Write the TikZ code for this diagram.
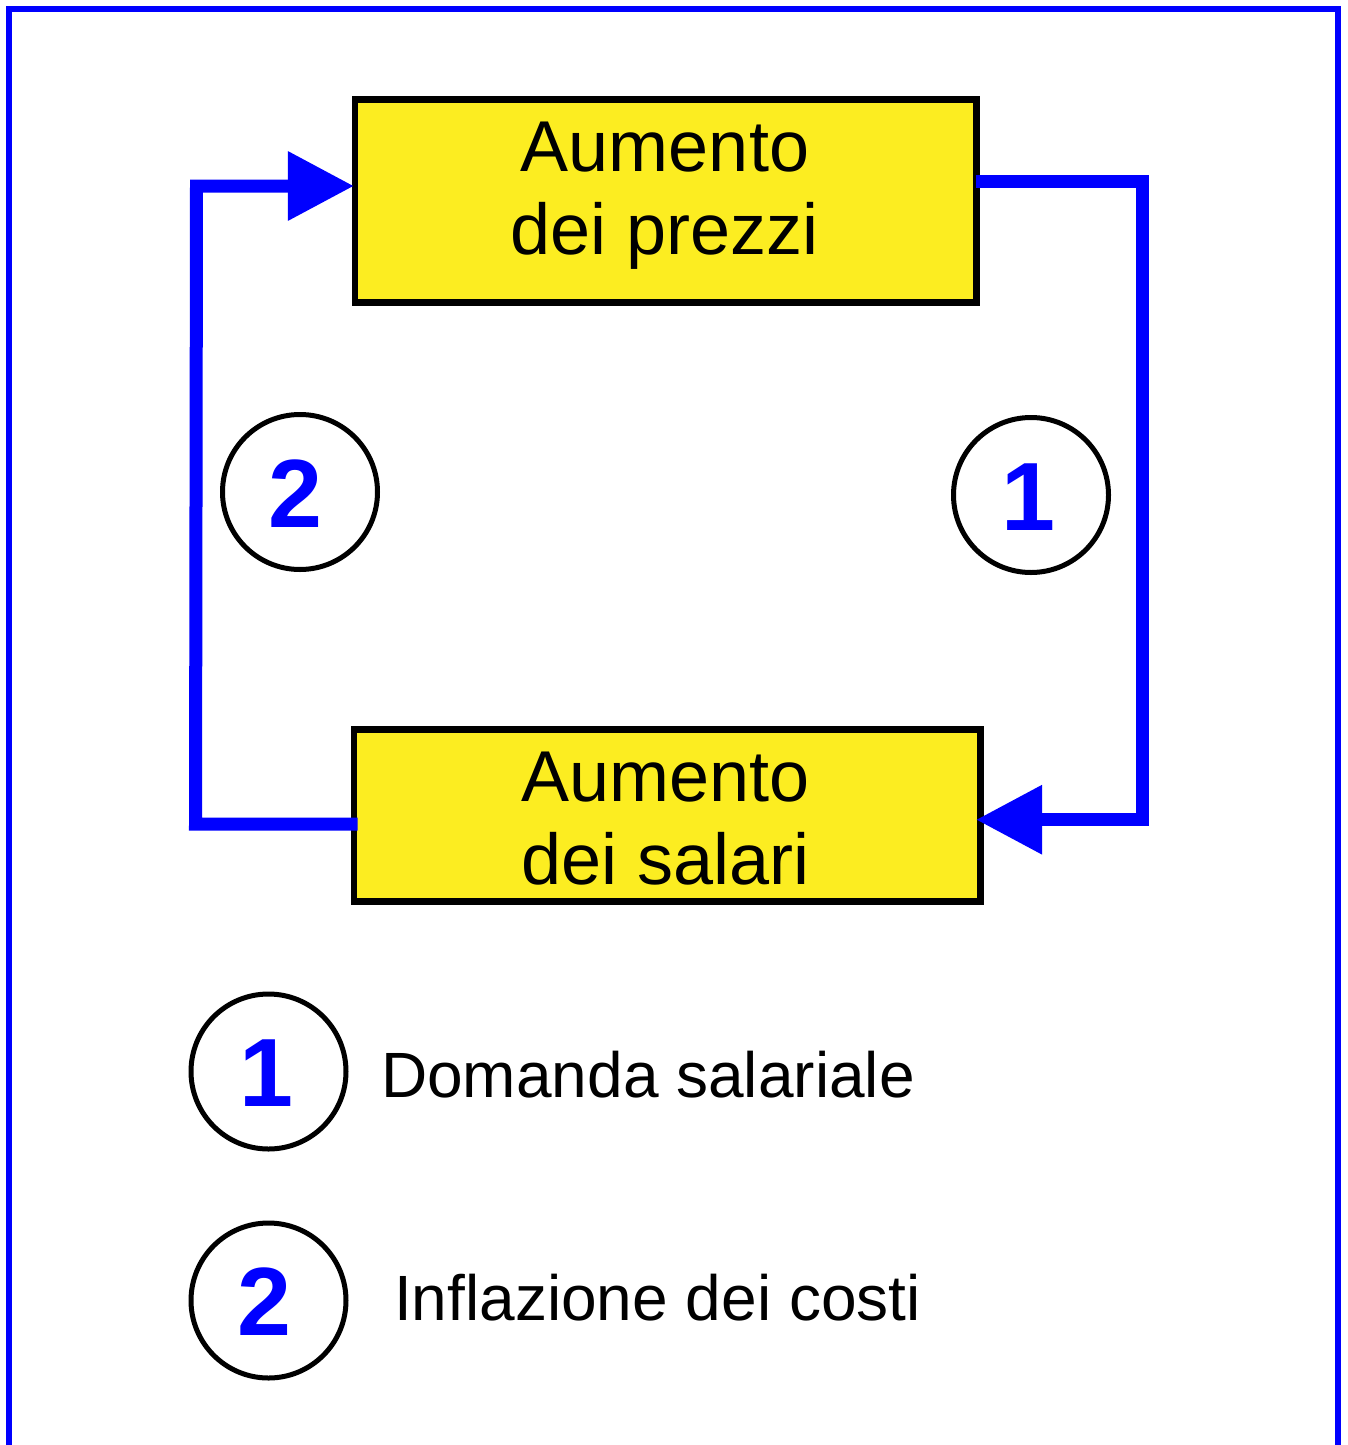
\documentclass[tikz,border=0pt]{standalone}
\usepackage{fontspec}
\setmainfont{Liberation Sans}
\usetikzlibrary{arrows.meta}
\definecolor{boxyellow}{RGB}{252,237,33}
\definecolor{pureblue}{RGB}{0,0,255}
\begin{document}
\begin{tikzpicture}[x=1pt,y=-1pt,
  box/.style={draw=black, line width=6.5pt, fill=boxyellow, rectangle, inner sep=0pt, outer sep=0pt},
  boxtext/.style={font=\fontsize{72}{82}\selectfont, inner sep=0pt, anchor=base},
  numcircle/.style={draw=black, line width=5pt, circle, minimum size=155pt, inner sep=0pt, outer sep=0pt},
  numtext/.style={font=\fontsize{97}{100}\selectfont\bfseries, text=pureblue, inner sep=0pt},
  legendtext/.style={font=\fontsize{64}{70}\selectfont, inner sep=0pt, anchor=base west},
  flow/.style={draw=pureblue, line width=13pt, line join=miter},
  flowtip/.style={-{Triangle[length=66pt,width=66pt]}},
  outerframe/.style={draw=pureblue, line width=6pt, line join=miter}]
\useasboundingbox (0,0) rectangle (1348,1445);
% outer frame (bottom edge lies outside the picture)
\draw[outerframe] (8.5,1470) -- (8.5,8.8) -- (1338,8.8) -- (1338,1470);
% boxes
\node[box, minimum width=621.7pt, minimum height=203pt] (prezzi) at (665.6,200.8) {};
\node[box, minimum width=626.3pt, minimum height=172pt] (salari) at (667.2,815.5) {};
% corner coordinates
\coordinate (rtop) at (1142,181);
\coordinate (rbot) at (1142,819.7);
\coordinate (lbot) at (195.5,824);
\coordinate (ltop) at (196.5,186);
% connectors
\draw[flow, flowtip] ([yshift=19.8pt]prezzi.east) -- (rtop) -- (rbot) -- ([xshift=-4.3pt,yshift=-4.2pt]salari.east);
\draw[flow, flowtip] ([xshift=3.5pt,yshift=-8.5pt]salari.west) -- (lbot) -- (ltop) -- ([xshift=-0.8pt,yshift=14.8pt]prezzi.west);
% box texts
\node[boxtext] (prezzi1) at (665,171.7) {Aumento};
\node[boxtext] (prezzi2) at (665,254) {dei prezzi};
\node[boxtext] (salari1) at (665.5,801.7) {Aumento};
\node[boxtext] (salari2) at (665.5,884) {dei salari};
% numbered circles on the loop
\node[numcircle] (c2) at (300,492) {};
\node[numtext] (n2) at (295,493.5) {2};
\node[numcircle] (c1) at (1031,495) {};
\node[numtext] (n1) at (1028,497) {1};
% legend
\node[numcircle] (lc1) at (268.5,1071.5) {};
\node[numtext] (ln1) at (266,1073.5) {1};
\node[legendtext] (lt1) at (381,1097) {Domanda salariale};
\node[numcircle] (lc2) at (268.5,1300.5) {};
\node[numtext] (ln2) at (264.5,1302) {2};
\node[legendtext] (lt2) at (394,1320) {Inflazione dei costi};
\end{tikzpicture}
\end{document}
